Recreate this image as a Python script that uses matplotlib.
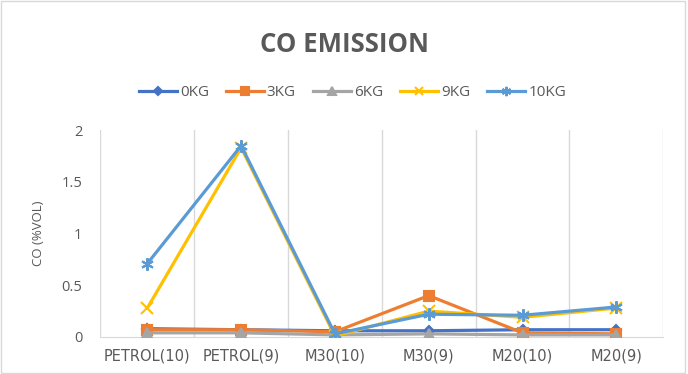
import numpy as np
import matplotlib
matplotlib.use("Agg")
import matplotlib.pyplot as plt
from matplotlib.patches import Rectangle

categories = ["PETROL(10)", "PETROL(9)", "M30(10)", "M30(9)", "M20(10)", "M20(9)"]
series_names = ["0KG", "3KG", "6KG", "9KG", "10KG"]
co_0kg = [0.08, 0.07, 0.06, 0.06, 0.07, 0.07]
co_3kg = [0.07, 0.07, 0.05, 0.40, 0.04, 0.03]
co_6kg = [0.04, 0.04, 0.02, 0.03, 0.02, 0.02]
co_9kg = [0.28, 1.83, 0.01, 0.25, 0.19, 0.28]
co_10kg = [0.71, 1.85, 0.03, 0.22, 0.21, 0.29]

colors = ["#4472C4", "#ED7D31", "#A5A5A5", "#FFC000", "#5B9BD5"]
markers = ["D", "s", "^", "x", (6, 2, 0)]
msizes = [5, 7, 7, 8, 9]
gray = "#595959"

plt.rcParams['font.family'] = ['Open Sans', 'DejaVu Sans']

fig = plt.figure(figsize=(6.88, 3.74), dpi=100)
fig.patches.append(Rectangle((0.002, 0.003), 0.994, 0.994, transform=fig.transFigure,
                             fill=False, edgecolor="#D9D9D9", lw=1))
ax = fig.add_axes([0.146, 0.099, 0.818, 0.553])

x = np.arange(len(categories))
data = [co_0kg, co_3kg, co_6kg, co_9kg, co_10kg]
for i in range(len(data)):
    ax.plot(x, data[i], color=colors[i], marker=markers[i], ms=msizes[i],
            mew=1.5, lw=2.3, label=series_names[i], zorder=3 + i)

ax.set_xlim(-0.5, len(categories) - 0.5)
ax.set_ylim(0, 2)
ax.set_yticks([0, 0.5, 1, 1.5, 2])
ax.set_yticklabels(["0", "0.5", "1", "1.5", "2"])
ax.set_xticks(x)
ax.set_xticklabels(categories, family=['DejaVu Sans'], fontsize=10)
ax.set_xticks(np.arange(-0.5, len(categories)), minor=True)
ax.grid(True, which="minor", axis="x", color="#D9D9D9", lw=1)
ax.tick_params(axis="both", which="both", length=0, colors=gray, labelsize=10.5)
ax.tick_params(axis="x", pad=8)
ax.tick_params(axis="y", pad=13)
for s in ["top", "right", "left"]:
    ax.spines[s].set_visible(False)
ax.spines["bottom"].set_color("#D9D9D9")
ax.set_ylabel("CO (%VOL)", color=gray, fontsize=9.5, labelpad=12)

fig.text(0.5, 0.881, "CO EMISSION", ha="center", va="center", fontsize=18.5,
         fontweight="bold", color=gray)
fig.legend(loc="center", bbox_to_anchor=(0.512, 0.752), ncol=5, frameon=False,
           fontsize=11, labelcolor=gray, handlelength=2.5, columnspacing=1.1,
           handletextpad=0.2, markerscale=0.75)

fig.savefig("out.png", dpi=100)
